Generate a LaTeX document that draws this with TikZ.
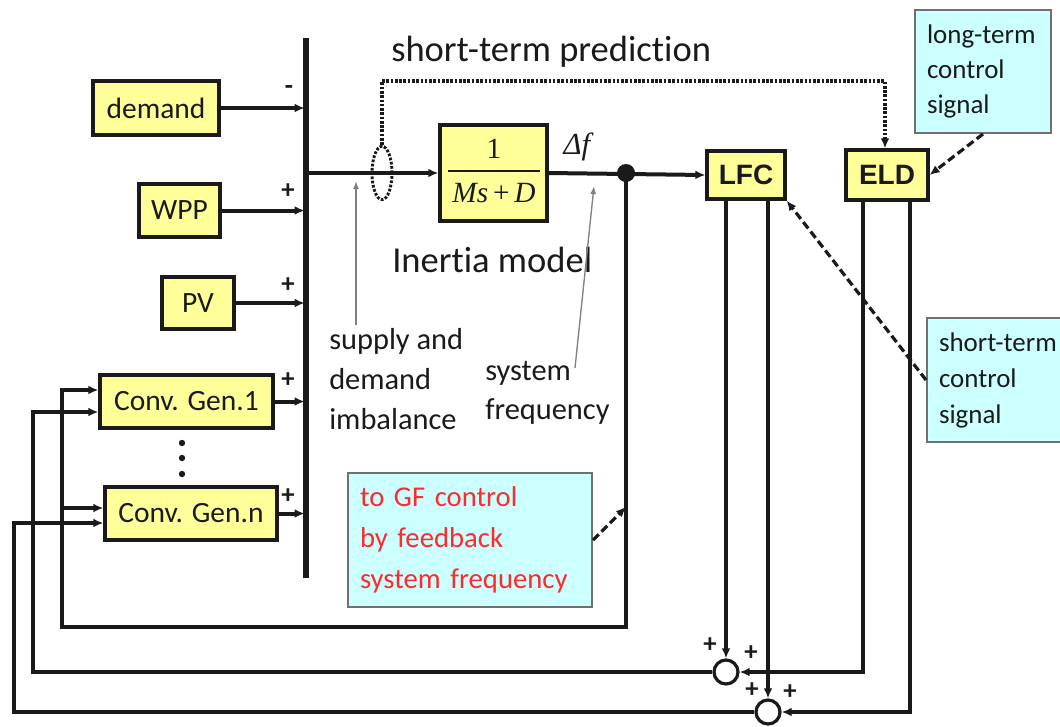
\documentclass[tikz,border=0pt]{standalone}
\usepackage{fontspec}
\setmainfont{Carlito}[Ligatures=NoCommon]
\newfontfamily\arialf{Liberation Sans}
\newfontfamily\tms{Liberation Serif}
\usetikzlibrary{arrows.meta,shapes.geometric}
\definecolor{boxyellow}{HTML}{FFFF99}
\definecolor{notecyan}{HTML}{CCFFFF}
\definecolor{inkdark}{HTML}{1A1A1A}
\definecolor{alertred}{HTML}{FF2A2A}
\definecolor{framegray}{HTML}{707070}
\newcommand\fsz[2]{\fontsize{#1}{#2}\selectfont}

\begin{document}
\begin{tikzpicture}[x=0.75pt,y=-0.75pt,
  blk/.style={draw=inkdark, line width=2.4pt, fill=boxyellow, inner sep=0pt,
              text=inkdark, font=\fsz{22.1}{26}},
  ctl/.style={blk, font=\arialf\bfseries\fsz{21}{24}},
  note/.style={draw=framegray, line width=1.5pt, fill=notecyan, inner xsep=9pt,
               inner ysep=0pt, align=left, text=inkdark},
  lbl/.style={inner sep=0pt, text=inkdark},
  sgn/.style={inner sep=0pt, text=inkdark, font=\bfseries\fsz{20}{20}},
  wire/.style={line width=3pt, draw=inkdark},
  busbar/.style={line width=4pt, draw=inkdark},
  arrowed/.style={-{Latex[length=7.5pt,width=6.5pt]}},
  pred/.style={line width=2.6pt, draw=inkdark, dash pattern=on 2pt off 1.2pt},
  dsh/.style={line width=2.4pt, draw=inkdark, dash pattern=on 6pt off 3pt},
  pointer/.style={draw=gray, line width=1pt, -{Latex[length=6pt,width=4.5pt]}},
  sumpt/.style={circle, draw=inkdark, line width=2.4pt, fill=white, minimum size=18pt, inner sep=0pt},
]
\clip (0,0) rectangle (1060,726);
\fill[white] (0,0) rectangle (1060,726);

% summing bus
\coordinate (busT) at (306,38);
\coordinate (busB) at (306,578);
\draw[busbar] (busT) -- (busB);

% sources
\node[blk, minimum width=94.5pt, minimum height=40.5pt] (demand) at (156,108) {demand};
\node[blk, minimum width=60.75pt, minimum height=39.75pt] (wpp) at (179.5,210.5) {WPP};
\node[blk, minimum width=54pt, minimum height=39pt] (pv) at (198,303) {PV};
\node[blk, minimum width=129.75pt, minimum height=39.75pt] (gen1) at (186.5,401.5) {Conv. Gen.1};
\node[blk, minimum width=129pt, minimum height=39.75pt] (genn) at (191,513.5) {Conv. Gen.n};
\fill[inkdark] (182,443) circle (2.4pt) (182,458) circle (2.4pt) (182,474) circle (2.4pt);

\draw[wire,arrowed,shorten >=1pt] (demand.east) -- (demand.east -| busT);
\draw[wire,arrowed,shorten >=1pt] (wpp.east) -- (wpp.east -| busT);
\draw[wire,arrowed,shorten >=1pt] (pv.east) -- (pv.east -| busT);
\draw[wire,arrowed,shorten >=1pt] (gen1.east) -- (gen1.east -| busT);
\draw[wire,arrowed,shorten >=1pt] (genn.east) -- (genn.east -| busT);

\node[sgn] (sg1) at (289,90) {-};
\node[sgn] (sg2) at (288,191) {+};
\node[sgn] (sg3) at (288,285) {+};
\node[sgn] (sg4) at (288,380) {+};
\node[sgn] (sg5) at (288,496) {+};

% inertia model block
\node[blk, minimum width=80.25pt, minimum height=72pt] (tf) at (493.5,173) {};
\node[lbl, font=\tms\fsz{22}{24}] (num) at (494,149) {1};
\draw[line width=1.1pt, draw=inkdark] (448,171) -- (540,171);
\node[lbl, font=\tms\fsz{22}{24}] (den) at (494,193) {\itshape Ms\/\upshape{}\,+\,\itshape D};
\node[lbl, font=\tms\itshape\fsz{23}{24}] (df) at (577,147) {Δf};

% controllers
\node[ctl, minimum width=58.5pt, minimum height=36pt] (lfc) at (746,175) {LFC};
\node[ctl, minimum width=61.5pt, minimum height=37.5pt] (eld) at (887,175) {ELD};

% main signal path
\node[circle, fill=inkdark, minimum size=13.5pt, inner sep=0pt] (jn) at (626,173) {};
\draw[wire,arrowed] (busT |- tf.west) -- (tf.west);
\draw[wire,arrowed] (tf.east) -- (lfc.west);

% short-term prediction tap
\node[ellipse, draw=inkdark, line width=2.2pt, dash pattern=on 2pt off 1.2pt,
      minimum width=15pt, minimum height=40pt, inner sep=0pt] (el) at (382,173) {};
\coordinate (pr1) at (382,81);
\coordinate (pr2) at (885,81);
\draw[pred,arrowed] (el.north) -- (pr1) -- (pr2) -- (pr2 |- eld.north);

% summing points
\node[sumpt] (c1) at (726,672) {};
\node[sumpt] (c2) at (768,712) {};
\node[sgn] (sg6) at (710,645) {+};
\node[sgn] (sg7) at (751,653) {+};
\node[sgn] (sg8) at (752,690) {+};
\node[sgn] (sg9) at (790,692) {+};

\draw[wire,arrowed] (c1 |- lfc.south) -- (c1.north);
\draw[wire,arrowed] (c2 |- lfc.south) -- (c2.north);
\coordinate (e1) at (863,672);
\coordinate (e2) at (910,712);
\draw[wire,arrowed] (e1 |- eld.south) -- (e1) -- (c1.east);
\draw[wire,arrowed] (e2 |- eld.south) -- (e2) -- (c2.east);

% feedback to the generators
\coordinate (fb1) at (62,627);
\coordinate (fb2) at (33,672);
\coordinate (fb3) at (14,712);
\draw[wire,arrowed] (jn.center) |- (fb1) |- (gen1.west |- 0,390);
\draw[wire,arrowed] (fb1 |- 0,508) -- (genn.west |- 0,508);
\draw[wire,arrowed] (c1.west) -- (fb2) |- (gen1.west |- 0,412);
\draw[wire,arrowed] (c2.west) -- (fb3) |- (genn.west |- 0,523);

% labels
\node[lbl, anchor=base west, font=\fsz{27.4}{30}] (tpred) at (391,61) {short-term prediction};
\node[lbl, anchor=base west, font=\fsz{27.4}{30}] (imodel) at (392,272) {Inertia model};
\node[lbl, anchor=west, align=left, font=\fsz{22.8}{30}] (sdi) at (329,379.5) {supply and\\demand\\imbalance};
\node[lbl, anchor=west, align=left, font=\fsz{22.8}{29}] (sfq) at (485,393) {system\\frequency};
\coordinate (p1s) at (356,325);
\coordinate (p1e) at (356,181);
\draw[pointer] (p1s) -- (p1e);
\coordinate (p2s) at (575,368);
\coordinate (p2e) at (594,186);
\draw[pointer] (p2s) -- (p2e);

% annotation boxes
\node[note, text width=84pt, minimum height=92.25pt, font=\fsz{20.2}{26.25}] (lt) at (983,71.5)
  {long-term\\control\\signal};
\node[note, text width=93pt, minimum height=93pt, font=\fsz{20.2}{27}] (st) at (1001,380)
  {short-term\\control\\signal};
\node[note, text width=165pt, minimum height=100.5pt, text=alertred, font=\fsz{21.5}{30.75}] (gf) at (470,540)
  {to GF control\\by feedback\\system frequency};

\coordinate (gfhit) at (626,507);
\draw[dsh,arrowed] (lt.south) -- (eld.east);
\draw[dsh,arrowed] (st.west) -- (lfc.south east);
\draw[dsh,arrowed] (gf.east) -- (gfhit);
\end{tikzpicture}
\end{document}
